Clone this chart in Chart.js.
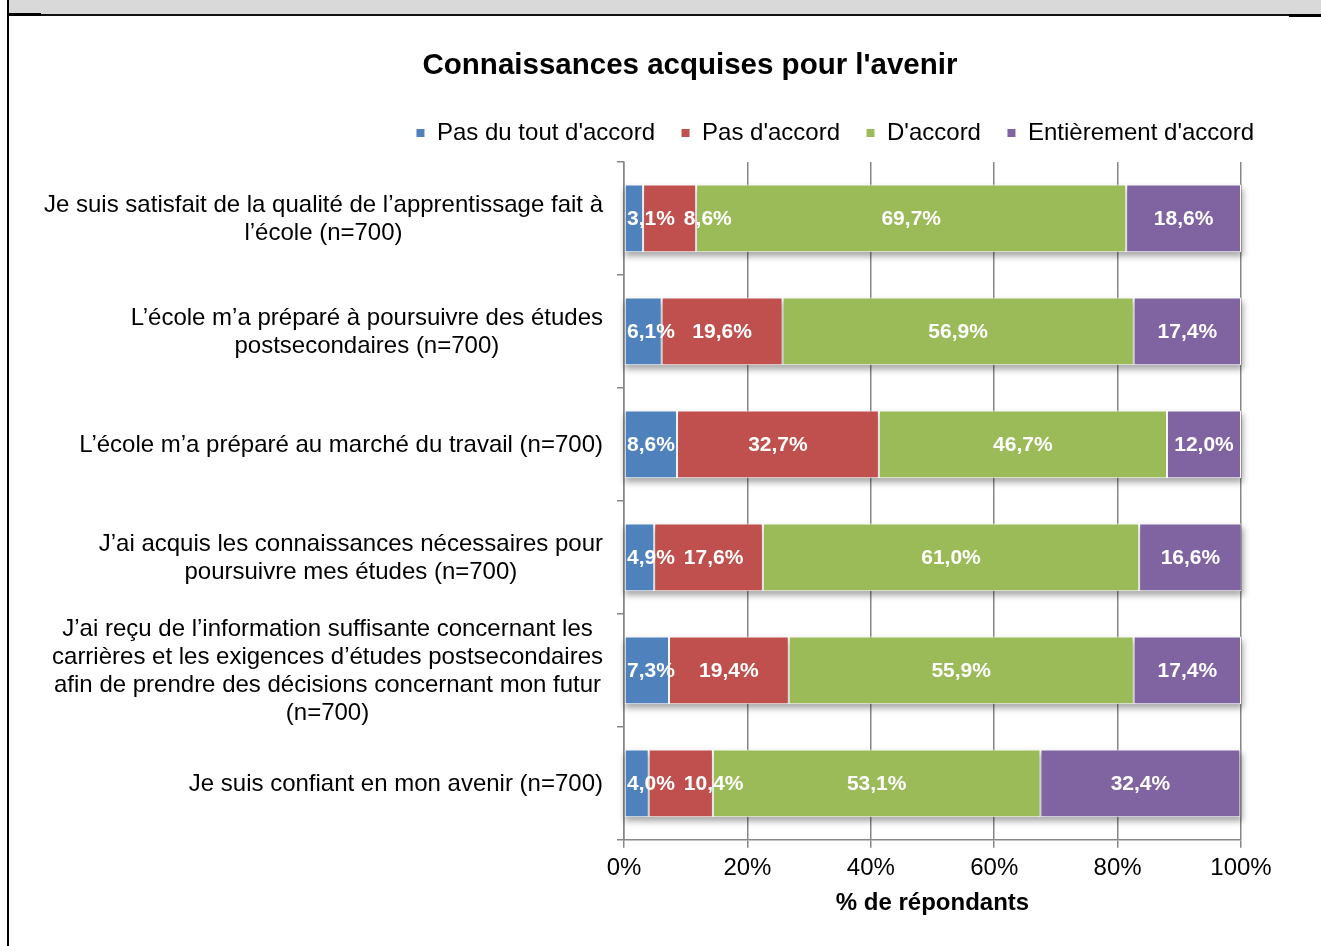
<!DOCTYPE html>
<html lang="fr">
<head>
<meta charset="utf-8">
<title>Connaissances acquises pour l'avenir</title>
<script src="https://cdn.jsdelivr.net/npm/chart.js@4.4.1/dist/chart.umd.min.js"></script>
<style>
  html, body { margin: 0; padding: 0; background: #fff; }
  #page { position: relative; width: 1321px; height: 946px; overflow: hidden; }
  /* cadre du tableau autour du graphique */
  .band { position: absolute; left: 9px; top: 0; width: 1312px; height: 14px; background: #d9d9d9; }
  .rule { position: absolute; left: 9px; top: 14px; width: 1312px; height: 2px; background: #111; }
  .rule-left { position: absolute; left: 9px; top: 13px; width: 32px; height: 3px; background: #000; }
  .rule-right { position: absolute; left: 1289px; top: 14px; width: 32px; height: 3px; background: #000; }
  .edge { position: absolute; left: 7px; top: 0; width: 2px; height: 946px; background: #000; }
  #chart { position: absolute; left: 0; top: 0; }
</style>
</head>
<body>
<div id="page">
  <div class="band"></div>
  <div class="rule"></div>
  <div class="rule-left"></div>
  <div class="rule-right"></div>
  <div class="edge"></div>
  <canvas id="chart" width="1321" height="946"></canvas>
</div>
<script>
// Questions (une ligne par élément)
const categories = [
    ['Je suis satisfait de la qualité de l’apprentissage fait à', 'l’école (n=700)'],
    ['L’école m’a préparé à poursuivre des études', 'postsecondaires (n=700)'],
    ['L’école m’a préparé au marché du travail (n=700)'],
    ['J’ai acquis les connaissances nécessaires pour', 'poursuivre mes études (n=700)'],
    ['J’ai reçu de l’information suffisante concernant les', 'carrières et les exigences d’études postsecondaires', 'afin de prendre des décisions concernant mon futur', '(n=700)'],
    ['Je suis confiant en mon avenir (n=700)']
];

const seriesNames = ["Pas du tout d'accord", "Pas d'accord", "D'accord", "Entièrement d'accord"];

// % de répondants par réponse
const pasDuToutDaccord = [3.1, 6.1, 8.6, 4.9, 7.3, 4.0];
const pasDaccord = [8.6, 19.6, 32.7, 17.6, 19.4, 10.4];
const daccord = [69.7, 56.9, 46.7, 61.0, 55.9, 53.1];
const entierementDaccord = [18.6, 17.4, 12.0, 16.6, 17.4, 32.4];

const xTicks = [0, 20, 40, 60, 80, 100];

const seriesData = [pasDuToutDaccord, pasDaccord, daccord, entierementDaccord];
const seriesColors = ['#4f81bd', '#c0504d', '#9bbb59', '#8064a2'];

const FONT = '"Liberation Sans", Arial, Helvetica, sans-serif';
Chart.defaults.font.family = FONT;
Chart.defaults.color = '#000';

function formatPct(v) {
    return v.toFixed(1).replace('.', ',') + '%';
}

// petit espace vide entre la légende et la zone du graphique
const legendGap = {
    id: 'legendGap',
    beforeInit(chart) {
        Chart.layouts.addBox(chart, {
            position: 'top',
            weight: 0,
            fullSize: true,
            options: {},
            width: 0,
            height: 0,
            update(maxWidth) { this.width = maxWidth; this.height = 7; },
            getPadding() { return { left: 0, top: 0, right: 0, bottom: 0 }; },
            isHorizontal() { return true; },
            draw() {}
        });
    }
};

// ombre douce sous chaque barre empilée
const barShadow = {
    id: 'barShadow',
    beforeDatasetsDraw(chart) {
        const ctx = chart.ctx;
        const first = chart.getDatasetMeta(0).data;
        const last = chart.getDatasetMeta(chart.data.datasets.length - 1).data;
        ctx.save();
        ctx.filter = 'blur(3px)';
        ctx.fillStyle = 'rgba(0,0,0,0.35)';
        first.forEach((bar, i) => {
            const left = bar.base;
            const right = last[i].x;
            ctx.fillRect(left, bar.y - bar.height / 2 + 4, right - left + 2, bar.height);
        });
        ctx.restore();
    }
};

// valeurs en blanc dans les segments, décalées à droite quand elles se chevauchent
const segmentLabels = {
    id: 'segmentLabels',
    afterDatasetsDraw(chart) {
        const ctx = chart.ctx;
        const area = chart.chartArea;
        ctx.save();
        ctx.font = 'bold 21px ' + FONT;
        ctx.fillStyle = '#fff';
        ctx.textBaseline = 'middle';
        ctx.textAlign = 'left';
        categories.forEach((_, i) => {
            let prevRight = -Infinity;
            chart.data.datasets.forEach((ds, d) => {
                const bar = chart.getDatasetMeta(d).data[i];
                const text = formatPct(ds.data[i]);
                const w = ctx.measureText(text).width;
                let left = (bar.base + bar.x) / 2 - w / 2;
                left = Math.max(left, area.left + 3, prevRight + 9);
                ctx.fillText(text, left, bar.y + 1);
                prevRight = left + w;
            });
        });
        ctx.restore();
    }
};

// libellés des questions : bloc aligné à droite, lignes centrées
const questionLabels = {
    id: 'questionLabels',
    afterDraw(chart) {
        const ctx = chart.ctx;
        const yScale = chart.scales.y;
        const right = chart.chartArea.left - 21;
        const lineHeight = 28;
        ctx.save();
        ctx.font = '24px ' + FONT;
        ctx.fillStyle = '#000';
        ctx.textAlign = 'center';
        ctx.textBaseline = 'middle';
        categories.forEach((lines, i) => {
            const widest = Math.max(...lines.map(l => ctx.measureText(l).width));
            const cx = right - widest / 2;
            const cy = yScale.getPixelForValue(i);
            lines.forEach((line, k) => {
                ctx.fillText(line, cx, cy + (k - (lines.length - 1) / 2) * lineHeight + 1);
            });
        });
        ctx.restore();
    }
};

new Chart(document.getElementById('chart'), {
    type: 'bar',
    data: {
        labels: categories,
        datasets: seriesNames.map((name, k) => ({
            label: name,
            data: seriesData[k],
            backgroundColor: seriesColors[k],
            borderColor: '#ffffff',
            borderWidth: 1,
            borderSkipped: false,
            barPercentage: 0.6,
            categoryPercentage: 1
        }))
    },
    options: {
        indexAxis: 'y',
        responsive: false,
        animation: false,
        devicePixelRatio: 1,
        layout: { padding: { left: 100, right: 41, top: 30, bottom: 10 } },
        plugins: {
            title: {
                display: true,
                text: "Connaissances acquises pour l'avenir",
                color: '#000',
                font: { size: 29.5, weight: 'bold' },
                padding: { top: 0, bottom: 11.6 }
            },
            legend: {
                position: 'top',
                align: 'end',
                labels: { boxWidth: 9, boxHeight: 9, padding: 26, color: '#000', font: { size: 24 } }
            },
            tooltip: { enabled: false }
        },
        scales: {
            x: {
                stacked: true,
                min: 0,
                max: 100,
                afterBuildTicks: s => { s.ticks = xTicks.map(v => ({ value: v })); },
                afterFit: s => { s.paddingRight = 80; },
                ticks: { callback: v => v + '%', color: '#000', font: { size: 24 }, padding: 6, maxRotation: 0 },
                grid: { color: '#868686', lineWidth: 1.5, tickLength: 8 },
                border: { color: '#868686', width: 1.5 },
                title: {
                    display: true,
                    text: '% de répondants',
                    color: '#000',
                    font: { size: 24, weight: 'bold' },
                    padding: { top: 0, bottom: 18.6 }
                }
            },
            y: {
                stacked: true,
                afterFit: s => { s.width = 524; s.paddingTop = 162; },
                ticks: { display: false },
                grid: { offset: true, drawOnChartArea: false, color: '#868686', lineWidth: 1.5, tickLength: 7 },
                border: { color: '#868686', width: 1.5 }
            }
        }
    },
    plugins: [legendGap, barShadow, segmentLabels, questionLabels]
});
</script>
</body>
</html>
